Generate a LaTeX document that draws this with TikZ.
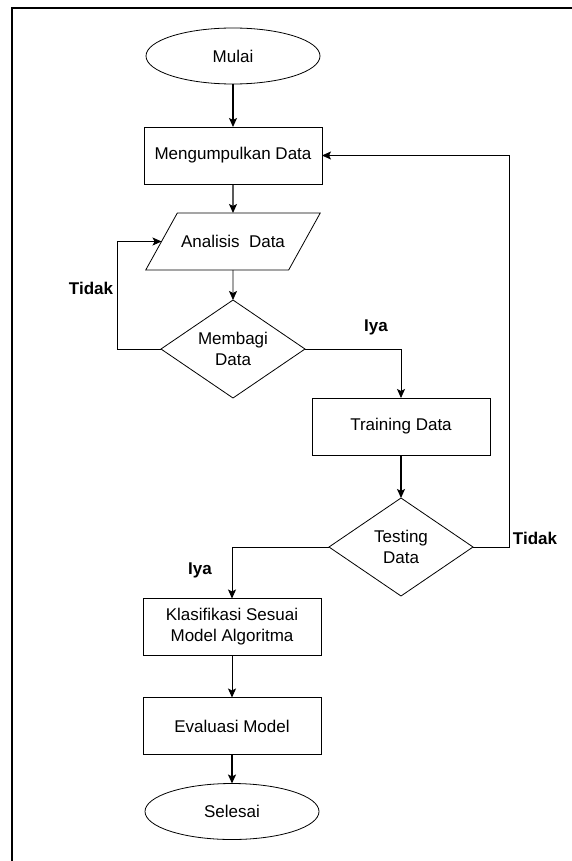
\documentclass[tikz,border=0pt]{standalone}
\usepackage{fontspec}
\setmainfont{Liberation Sans}
\usetikzlibrary{positioning, shapes.geometric, arrows.meta}

\begin{document}
\begin{tikzpicture}[
  x=1pt, y=-1pt,
  font=\fontsize{17}{21}\selectfont,
  term/.style={draw, thick, ellipse, minimum width=174pt, minimum height=56pt, outer sep=0pt},
  proc/.style={draw, thick, minimum width=178pt, minimum height=57pt, align=center, outer sep=0pt},
  inout/.style={draw, thick, trapezium, trapezium left angle=61, trapezium right angle=119,
    inner xsep=3.7pt, inner ysep=0pt, text height=28pt, text depth=29pt, outer sep=0pt},
  decision/.style={draw, thick, diamond, aspect=1.47, inner sep=0pt, minimum width=144pt,
    minimum height=98pt, align=center, outer sep=0pt},
  lbl/.style={font=\fontsize{17}{21}\selectfont\bfseries, inner sep=0pt},
  flow/.style={thick, -{Stealth[length=9pt, width=8pt, inset=2pt]}},
]
\useasboundingbox (0,0) rectangle (572,861);
\draw[line width=1.6pt] (12,861) -- (12,8) -- (572,8);

\node[term] (start) at (233,56) {Mulai};
\node[proc, below=43pt of start] (collect) {Mengumpulkan Data};
\node[inout, below=29pt of collect] (analyze) {\raisebox{-6pt}{Analisis\ \ Data}};
\node[decision, below=30pt of analyze] (split) {Membagi\\Data};
\node[proc] (train) at (401,426.5) {Training Data};
\node[decision, below=43pt of train] (test) {Testing\\Data};
\node[proc] (classify) at (232,627) {Klasifikasi Sesuai\\Model Algoritma};
\node[proc, below=42pt of classify] (eval) {Evaluasi Model};
\node[term, below=29pt of eval] (finish) {Selesai};

% labels
\node[lbl] (noA) at (91,288) {Tidak};
\node[lbl] (yesA) at (376,327) {Iya};
\node[lbl] (noB) at (535,538) {Tidak};
\node[lbl] (yesB) at (200,570) {Iya};

\draw[flow, line width=1.3pt] (start) -- (collect);
\draw[flow, line width=1.3pt] (collect) -- (analyze);
\draw[flow] (analyze) -- (split);
\draw[flow] (split.west) -- ++(-44,0) |- (analyze.west);
\draw[flow] (split.east) -| (train.north);
\draw[flow, line width=1.3pt] (train) -- (test);
\draw[flow] (test.east) -- ++(36,0) |- (collect.east);
\draw[flow] (test.west) -| (classify.north);
\draw[flow] (classify) -- (eval);
\draw[flow, line width=1.8pt] (eval) -- (finish);
\end{tikzpicture}
\end{document}
